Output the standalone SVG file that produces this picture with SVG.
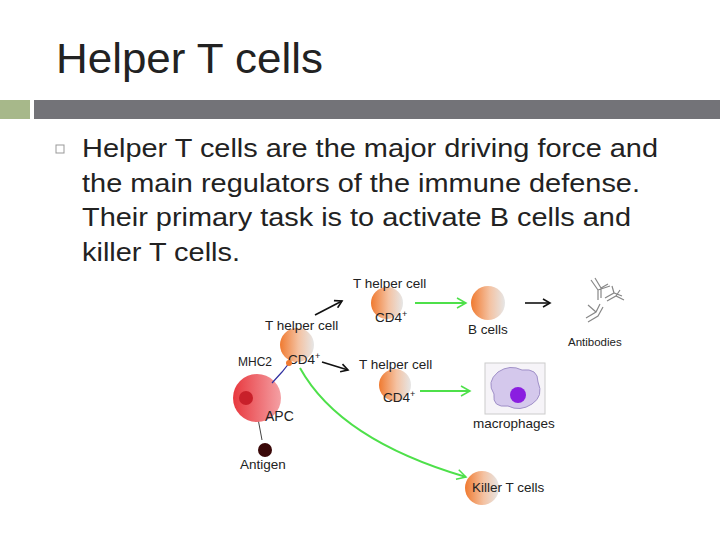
<svg xmlns="http://www.w3.org/2000/svg" width="720" height="540" viewBox="0 0 720 540">
<defs>
<linearGradient id="cell" x1="0" x2="1" y1="0" y2="0"><stop offset="0" stop-color="#f07a30"/><stop offset="0.55" stop-color="#f4c2a2"/><stop offset="1" stop-color="#e6e6e6"/></linearGradient>
<linearGradient id="apc" x1="0" x2="1"><stop offset="0" stop-color="#e8383e"/><stop offset="1" stop-color="#f4a0a4"/></linearGradient>
<marker id="ak" markerWidth="10" markerHeight="10" refX="8" refY="5" orient="auto" markerUnits="userSpaceOnUse"><path d="M1,1 L8,5 L1,9" fill="none" stroke="#111" stroke-width="1.6"/></marker>
<marker id="ag" markerWidth="12" markerHeight="12" refX="10" refY="6" orient="auto" markerUnits="userSpaceOnUse"><path d="M1,1 L10,6 L1,11" fill="none" stroke="#4ee04a" stroke-width="1.5"/></marker>
</defs>
<style>
.t{font-family:"Liberation Sans",Arial,sans-serif;fill:#222}
.s{font-size:13.5px}
.b{fill:none;stroke:#111;stroke-width:1.6}
.g{fill:none;stroke:#4ee04a;stroke-width:2}
.ab{fill:none;stroke:#888;stroke-width:1.2}
</style>
<rect width="720" height="540" fill="#fff"/>
<text class="t" x="56" y="73" font-size="42" fill="#333" textLength="267" lengthAdjust="spacingAndGlyphs">Helper T cells</text>
<rect x="0" y="100" width="30" height="19" fill="#a7b88a"/>
<rect x="34" y="100" width="686" height="19" fill="#737378"/>
<rect x="56" y="145" width="8" height="8" fill="none" stroke="#999" stroke-width="1"/>
<g class="t" font-size="26">
<text x="82" y="157" textLength="576" lengthAdjust="spacingAndGlyphs">Helper T cells are the major driving force and</text>
<text x="82" y="192" textLength="558" lengthAdjust="spacingAndGlyphs">the main regulators of the immune defense.</text>
<text x="82" y="226" textLength="549" lengthAdjust="spacingAndGlyphs">Their primary task is to activate B cells and</text>
<text x="82" y="261" textLength="158" lengthAdjust="spacingAndGlyphs">killer T cells.</text>
</g>
<g id="connectors">
<line class="b" x1="315" y1="315" x2="342" y2="301" marker-end="url(#ak)"/>
<line class="b" x1="322" y1="362" x2="348" y2="370" marker-end="url(#ak)"/>
<line class="b" x1="525" y1="303" x2="550" y2="303" marker-end="url(#ak)"/>
<line x1="262" y1="440" x2="256" y2="408" stroke="#444" stroke-width="1" marker-end="url(#ak)"/>
<line class="g" x1="415" y1="303" x2="466" y2="303" marker-end="url(#ag)"/>
<line class="g" x1="420" y1="391" x2="470" y2="391" marker-end="url(#ag)"/>
<path class="g" d="M300,368 Q340,440 466,477" marker-end="url(#ag)"/>
</g>
<g id="th1"><circle cx="387" cy="303" r="16" fill="url(#cell)"/><text class="t s" x="353" y="288">T helper cell</text><text class="t s" x="375" y="322">CD4<tspan font-size="9" dy="-5">+</tspan></text></g>
<g id="th0"><circle cx="297" cy="345" r="17" fill="url(#cell)"/><text class="t s" x="265" y="330">T helper cell</text><text class="t s" x="288" y="364">CD4<tspan font-size="9" dy="-5">+</tspan></text></g>
<g id="th2"><circle cx="395" cy="385" r="16" fill="url(#cell)"/><text class="t s" x="359" y="369">T helper cell</text><text class="t s" x="383" y="402">CD4<tspan font-size="9" dy="-5">+</tspan></text></g>
<g id="bcell"><circle cx="488" cy="303" r="17" fill="url(#cell)"/><text class="t s" x="468" y="334">B cells</text></g>
<g id="antibodies">
<path class="ab" d="M591,280 L598,290 M595,278 L601,288 M598,290 L598,300 M601,288 L601,298 M598,290 L610,286 M601,288 L608,284"/>
<path class="ab" d="M605,298 L614,293 L622,296 M607,301 L616,296 L624,300 M614,293 L612,286 M616,296 L620,290"/>
<path class="ab" d="M586,318 L596,312 L600,304 M588,322 L598,316 L603,307 M596,312 L588,305"/>
<text class="t" x="568" y="346" font-size="11.5">Antibodies</text></g>
<g id="macrophage"><rect x="485" y="363" width="60" height="51" fill="#f6f4f8" stroke="#ccc"/>
<path d="M498,372 Q510,364 522,370 Q538,368 538,382 Q544,396 532,404 Q520,412 508,406 Q492,408 494,394 Q486,382 498,372Z" fill="#d4c8ec" stroke="#a090c8"/>
<circle cx="518" cy="395" r="8" fill="#8a1ee0"/>
<text class="t s" x="473" y="428">macrophages</text></g>
<g id="killer"><circle cx="482" cy="488" r="17" fill="url(#cell)"/><text class="t s" x="472" y="492">Killer T cells</text></g>
<g id="apc"><circle cx="257" cy="398" r="24" fill="url(#apc)"/><circle cx="246" cy="398" r="7" fill="#c8202a"/>
<path d="M272,383 L282,372 L290,362" stroke="#3030a0" stroke-width="1.2" fill="none"/>
<circle cx="289" cy="363" r="3" fill="#f07a30"/>
<text class="t" x="265" y="421" font-size="14">APC</text><text class="t" x="238" y="366" font-size="12">MHC2</text></g>
<g id="antigen"><circle cx="265" cy="450" r="7" fill="#3a0808"/><text class="t s" x="240" y="469">Antigen</text></g>
</svg>
